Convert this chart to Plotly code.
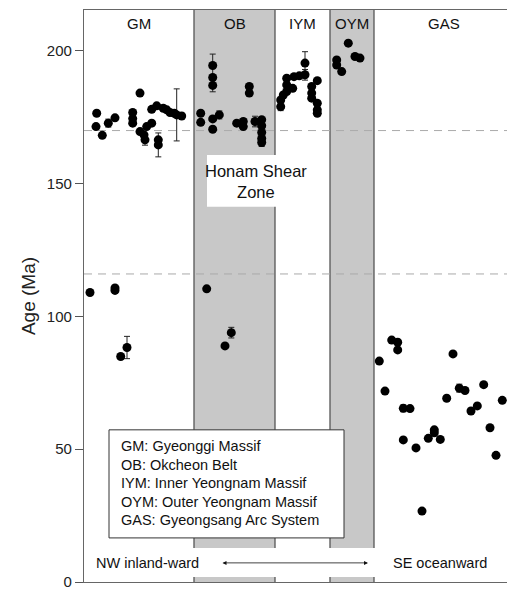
import plotly.graph_objects as go

# ---- data: position along NW->SE transect (arbitrary units), age (Ma), error (Ma)
GM_pos = [6, 31, 31, 43, 36.7, 12.7, 12, 18.3, 24.3, 31, 48.7, 48.7, 48.7, 56, 56, 60, 61, 62.7,
          67.7, 67.7, 72.7, 74.3, 74.3, 79.3, 82.7, 86, 90.3, 92.7, 97.7]
GM_age = [109.0, 109.8, 110.7, 88.3, 84.9, 176.5, 171.5, 168.2, 172.8, 174.8, 176.8, 174.5, 172.8,
          184.1, 169.6, 168.4, 166.5, 171.5, 172.8, 178.0, 179.3, 166.5, 164.6, 178.4, 177.8,
          176.8, 176.5, 175.9, 175.5]
GM_err = [0, 0, 0, 4.2, 0, 0, 0, 0, 1.5, 0, 0, 0, 0, 0, 0, 0, 2, 0, 0, 1, 0, 0, 4.5, 0, 0, 0, 0,
          9.8, 0]

OB_pos = [122.7, 141, 147.3, 116.7, 116.7, 128.7, 128.7, 128.7, 128.7, 128.7, 135.3, 165.3,
          165.3, 152.7, 159.3, 159.3, 171, 177.7, 177.7, 177.7, 177.7, 177.7]
OB_age = [110.4, 88.9, 93.9, 176.5, 173.1, 194.5, 190.0, 187.0, 174.4, 170.5, 175.9, 186.6,
          184.1, 172.8, 173.4, 171.5, 173.4, 174.1, 171.8, 169.3, 167.0, 165.5]
OB_err = [0, 0, 2.0, 0, 0, 4.3, 0, 2.4, 0, 0, 1.5, 0, 1, 0, 1, 0, 2, 0, 0, 0, 0, 1.5]

IYM_pos = [196.7, 196.7, 199.3, 202.7, 202.7, 202.7, 208.7, 210, 215.3, 221, 221, 227.7, 227.7,
           227.7, 233.3, 233.3, 233.3, 233.3]
IYM_age = [181.5, 179.0, 183.4, 189.7, 187.2, 184.7, 185.9, 190.3, 190.6, 195.4, 191.0, 186.6,
           184.1, 182.2, 188.8, 180.3, 177.8, 176.5]
IYM_err = [0, 1.5, 0, 0, 0, 0, 0, 0, 0, 4.3, 2, 0, 0, 0, 0, 0, 0, 0]

OYM_pos = [252.7, 252.7, 257.7, 264.3, 271, 276]
OYM_age = [196.6, 194.7, 192.2, 202.9, 197.9, 197.3]
OYM_err = [0, 1, 0, 0, 1, 0]

GAS_pos = [295.3, 301, 307.7, 313.7, 313.7, 319.3, 326, 319.3, 332, 338, 344.3, 350.3, 350.3,
           356.3, 362.7, 369, 375.3, 381, 387, 393.3, 399.7, 406, 412, 418.3]
GAS_age = [83.2, 71.9, 91.1, 90.3, 87.4, 65.4, 65.3, 53.5, 50.5, 26.7, 54.1, 57.3, 56.2, 53.7,
           69.2, 85.9, 73.0, 72.1, 64.4, 66.3, 74.3, 58.1, 47.7, 68.4]
GAS_err = [0, 0, 0, 0, 0, 1.3, 0, 0, 0, 0, 0, 0, 0, 0, 0, 0, 1.5, 0, 0, 0, 0, 0, 0, 0]

zone_names = ["GM", "OB", "IYM", "OYM", "GAS"]
zone_bounds = [0, 110, 191, 246, 290, 430]
zone_shaded = [False, True, False, True, False]
ref_lines = [170, 116]
legend_lines = ["GM: Gyeonggi Massif", "OB: Okcheon Belt", "IYM: Inner Yeongnam Massif",
                "OYM: Outer Yeongnam Massif", "GAS: Gyeongsang Arc System"]

FONT = "Arial, Liberation Sans, sans-serif"
Y_MAX = 215.4

fig = go.Figure()

all_pos = GM_pos + OB_pos + IYM_pos + OYM_pos + GAS_pos
all_age = GM_age + OB_age + IYM_age + OYM_age + GAS_age
all_err = GM_err + OB_err + IYM_err + OYM_err + GAS_err

ex = [p for p, e in zip(all_pos, all_err) if e > 0]
ey = [a for a, e in zip(all_age, all_err) if e > 0]
ee = [e for e in all_err if e > 0]

fig.add_trace(go.Scatter(x=ex, y=ey, mode="markers",
                         marker=dict(size=1, color="rgba(0,0,0,0)"),
                         error_y=dict(type="data", array=ee, visible=True, color="#222",
                                      thickness=1, width=3),
                         hoverinfo="skip", showlegend=False))
fig.add_trace(go.Scatter(x=all_pos, y=all_age, mode="markers",
                         marker=dict(size=9, color="black"), showlegend=False))

shapes = []
for i in range(5):
    if zone_shaded[i]:
        shapes.append(dict(type="rect", xref="x", yref="y", x0=zone_bounds[i], x1=zone_bounds[i + 1],
                           y0=0, y1=Y_MAX, fillcolor="#c8c8c8", line=dict(width=0), layer="below"))
for b in zone_bounds[1:-1]:
    shapes.append(dict(type="line", xref="x", yref="y", x0=b, x1=b, y0=0, y1=Y_MAX,
                       line=dict(color="#555", width=1.3), layer="below"))
for r in ref_lines:
    shapes.append(dict(type="line", xref="x", yref="y", x0=0, x1=430, y0=r, y1=r,
                       line=dict(color="#aaaaaa", width=1, dash="8px,6px"), layer="below"))
# white band behind the direction arrow
shapes.append(dict(type="rect", xref="x", yref="y", x0=0, x1=430, y0=1.9, y1=12.8,
                   fillcolor="white", line=dict(width=0), layer="below"))
# Honam shear zone label box
shapes.append(dict(type="rect", xref="x", yref="y", x0=123, x1=226, y0=141.3, y1=160.8,
                   fillcolor="white", line=dict(width=0), layer="below"))
# legend box
shapes.append(dict(type="rect", xref="x", yref="y", x0=25, x1=260, y0=16.6, y1=57.3,
                   fillcolor="white", line=dict(color="#333", width=1), layer="below"))

annotations = []
for i, name in enumerate(zone_names):
    annotations.append(dict(x=(zone_bounds[i] + zone_bounds[i + 1]) / 2, y=210.5, xref="x", yref="y",
                            text=name, showarrow=False, font=dict(size=15, color="#111", family=FONT)))
annotations.append(dict(x=172, y=151, xref="x", yref="y", text="Honam Shear<br>Zone",
                        showarrow=False, font=dict(size=16.5, color="#111", family=FONT)))
for k, t in enumerate(legend_lines):
    annotations.append(dict(x=35, y=51.2 - k * 7.0, xref="x", yref="y", text=t, xanchor="left",
                            showarrow=False, font=dict(size=14.5, color="#111", family=FONT)))
annotations.append(dict(x=63, y=7.2, xref="x", yref="y", text="NW inland-ward", showarrow=False,
                        font=dict(size=14.5, color="#111", family=FONT)))
annotations.append(dict(x=356, y=7.2, xref="x", yref="y", text="SE oceanward", showarrow=False,
                        font=dict(size=14.5, color="#111", family=FONT)))
annotations.append(dict(x=284, y=7.2, ax=137, ay=7.2, xref="x", yref="y", axref="x", ayref="y",
                        text="", showarrow=True, arrowhead=2, arrowside="end+start",
                        arrowsize=1, arrowwidth=0.8, arrowcolor="#111"))

# page body has an 8px default margin, so the figure is sized to fit the 515x590 window
fig.update_layout(
    width=507, height=582,
    margin=dict(l=76, r=1, t=2, b=8),
    paper_bgcolor="white", plot_bgcolor="white",
    shapes=shapes, annotations=annotations,
    xaxis=dict(range=[0, 430], showgrid=False, zeroline=False, showticklabels=False, ticks="",
               showline=True, linecolor="#666", linewidth=1.2, mirror=True),
    yaxis=dict(range=[0, Y_MAX], showgrid=False, zeroline=False, tickvals=[0, 50, 100, 150, 200],
               ticks="outside", ticklen=8, tickcolor="#555", tickwidth=1,
               ticklabeloverflow="allow",
               tickfont=dict(size=15, color="#222", family=FONT),
               showline=True, linecolor="#666", linewidth=1.2, mirror=True,
               title=dict(text="Age (Ma)", font=dict(size=19, color="#222", family=FONT), standoff=6)),
)

fig.write_html("out.html")
